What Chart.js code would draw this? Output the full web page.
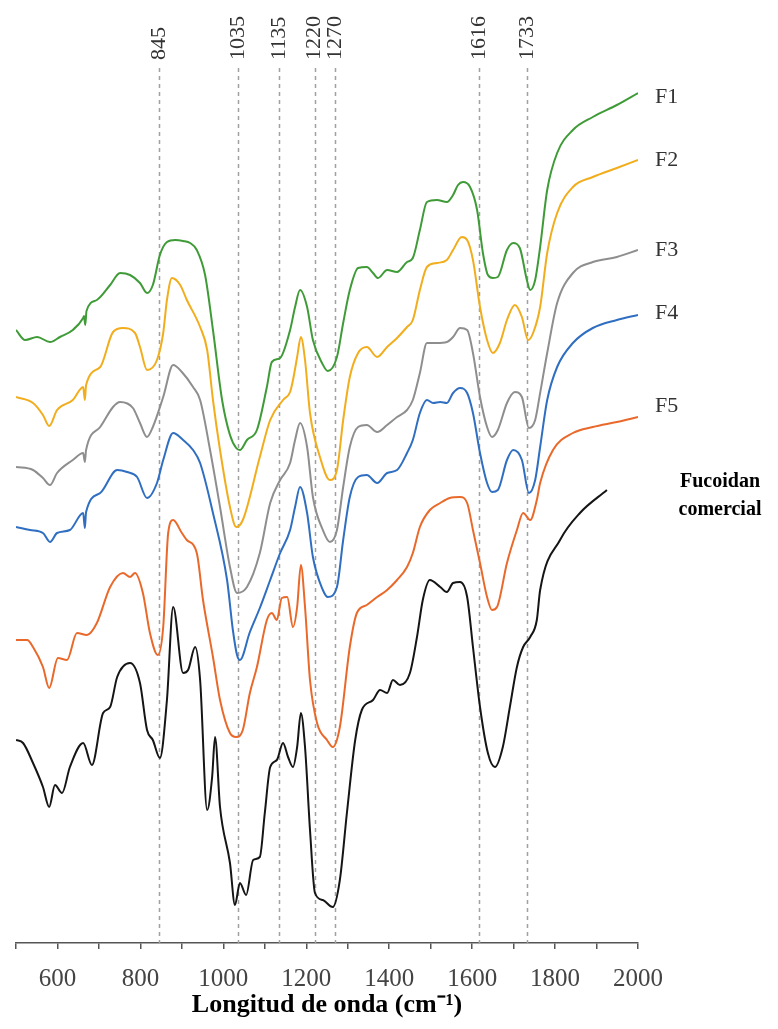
<!DOCTYPE html>
<html>
<head>
<meta charset="utf-8">
<script src="https://cdn.jsdelivr.net/npm/chart.js@4.4.1/dist/chart.umd.min.js"></script>
<style>
  html, body { margin: 0; padding: 0; background: #ffffff; }
  canvas { display: block; }
</style>
</head>
<body>
<canvas id="ftir" width="778" height="1029"></canvas>
<script>
// FTIR spectra of the fucoidan fractions (stacked, arbitrary transmittance units)
const wnF1 = [500,522,551,582,606,637,662,664,667,670,695,727,751,775,799,816,830,847,864,884,903,920,936,956,975,997,1016,1031,1040,1057,1081,1105,1117,1137,1161,1173,1185,1202,1216,1238,1252,1274,1289,1305,1325,1346,1361,1373,1395,1419,1443,1457,1474,1491,1515,1539,1554,1566,1578,1595,1612,1626,1638,1650,1662,1684,1699,1715,1732,1740,1752,1764,1781,1805,1843,1891,1949,2000];
const tF1 = [61.3,60.3,60.6,60.1,60.6,61.3,62.5,62.7,61.8,63.2,64.3,65.8,67.0,66.8,66.0,65.0,65.8,68.8,70.1,70.3,70.2,70.0,69.3,66.8,61.3,54.3,50.8,49.5,49.3,50.3,51.3,55.6,58.1,58.5,61.3,63.6,65.3,63.6,60.3,58.0,57.2,58.6,62.0,65.3,67.5,67.6,67.0,66.5,67.3,67.1,68.1,68.5,71.3,74.1,74.3,74.1,74.8,75.8,76.1,75.6,73.3,69.0,66.8,66.5,66.6,69.3,70.0,69.5,66.3,65.3,66.3,69.6,75.3,79.0,81.3,82.6,83.8,85.0];

const wnF2 = [500,541,565,580,599,637,662,666,669,703,734,758,787,799,816,840,855,864,876,896,912,944,961,975,992,1016,1031,1047,1088,1113,1144,1161,1168,1178,1187,1197,1209,1233,1257,1274,1289,1305,1325,1346,1371,1395,1419,1443,1457,1474,1491,1515,1539,1554,1575,1588,1602,1619,1636,1650,1667,1684,1703,1720,1735,1747,1764,1781,1805,1843,1891,1949,2000];
const tF2 = [54.6,54.0,52.8,51.7,53.3,54.3,55.6,54.3,55.8,57.6,61.1,61.5,61.0,59.6,57.3,58.3,61.0,64.3,66.5,65.8,64.3,61.6,59.3,54.3,49.3,43.6,41.6,42.3,48.6,52.3,54.3,55.1,56.3,58.6,60.6,58.3,53.0,48.6,46.3,47.3,52.3,56.6,59.0,59.6,58.6,59.6,60.5,61.6,62.3,65.3,67.6,68.0,68.3,69.3,70.6,70.3,68.3,63.6,60.3,59.0,60.0,62.3,63.8,62.6,60.3,61.0,63.6,69.0,73.0,75.6,76.6,77.5,78.3];

const wnF3 = [500,541,565,582,599,637,662,666,669,703,734,751,782,799,816,830,855,879,900,927,944,968,992,1016,1033,1057,1088,1113,1137,1161,1173,1185,1202,1216,1240,1257,1274,1289,1305,1325,1346,1371,1395,1419,1443,1457,1474,1491,1515,1539,1554,1571,1588,1602,1619,1636,1648,1662,1684,1703,1720,1737,1752,1764,1781,1805,1843,1891,1949,2000];
const tF3 = [47.6,47.3,46.5,45.8,47.0,48.3,49.0,48.1,49.3,51.6,53.6,54.1,53.5,52.0,50.6,51.6,54.6,57.8,57.1,55.6,54.3,49.3,43.6,37.6,35.0,35.6,39.0,44.0,46.3,48.0,50.3,52.0,49.6,44.6,41.3,40.1,41.3,45.6,49.6,51.6,51.8,51.1,51.8,52.6,53.3,54.3,57.0,60.0,60.0,60.1,60.6,61.5,61.3,59.0,54.6,51.6,50.6,51.3,54.0,55.1,54.6,51.5,52.3,55.0,59.0,64.0,67.0,68.1,68.6,69.3];

const wnF4 = [500,534,565,582,599,630,662,666,669,703,744,768,792,816,840,855,879,903,927,944,975,1009,1023,1033,1040,1064,1088,1113,1137,1161,1173,1185,1202,1216,1240,1252,1274,1289,1305,1325,1346,1371,1395,1419,1443,1457,1474,1491,1506,1523,1539,1554,1571,1588,1602,1619,1636,1648,1662,1684,1699,1720,1737,1752,1764,1781,1805,1843,1891,1949,2000];
const tF4 = [41.6,41.3,41.0,40.1,41.0,41.3,43.0,41.5,43.1,45.0,47.3,47.1,46.6,44.5,46.0,48.3,51.0,50.3,49.3,48.0,43.0,36.3,31.3,28.8,28.3,31.1,33.5,36.3,39.0,41.3,43.6,45.6,43.0,38.6,35.3,34.6,35.6,40.3,44.6,46.6,46.8,46.0,47.0,47.3,49.0,50.3,53.0,54.3,54.0,54.1,54.0,55.0,55.5,55.0,53.0,49.0,46.0,45.1,45.3,48.3,49.3,48.3,45.0,46.3,49.6,54.3,57.6,60.0,61.5,62.3,62.8];

const wnF5 = [500,527,541,565,580,601,623,647,671,695,727,758,775,787,806,823,842,855,867,879,900,912,936,951,975,992,1016,1031,1047,1064,1081,1105,1117,1129,1141,1154,1168,1178,1187,1197,1209,1226,1250,1264,1281,1305,1322,1346,1371,1395,1419,1443,1457,1474,1498,1523,1546,1571,1588,1602,1619,1636,1648,1660,1684,1708,1723,1740,1756,1764,1795,1843,1891,1949,2000];
const tF5 = [30.3,30.3,29.6,27.6,25.5,28.5,28.3,31.0,30.8,32.0,35.6,37.0,36.6,37.0,35.0,31.0,28.8,31.6,41.0,42.3,41.0,40.3,39.0,34.3,28.6,24.3,21.0,20.6,21.3,25.0,27.6,32.3,33.0,32.3,34.5,34.6,31.6,33.6,37.8,33.6,26.3,22.0,20.3,19.6,21.6,29.6,33.0,33.8,34.6,35.3,36.3,37.6,39.0,41.6,43.3,44.0,44.5,44.6,44.0,41.3,38.0,34.6,33.3,33.6,38.0,41.3,43.0,42.3,44.3,46.0,49.3,51.0,51.6,52.1,52.6];

const wnCom = [500,517,541,565,580,594,611,630,662,683,710,727,744,775,799,816,830,847,864,879,903,915,932,944,961,973,980,992,1016,1028,1040,1055,1072,1088,1100,1113,1129,1144,1156,1168,1178,1187,1197,1209,1221,1240,1264,1281,1298,1318,1334,1361,1378,1395,1409,1426,1450,1467,1481,1498,1523,1539,1554,1571,1588,1602,1619,1638,1655,1674,1691,1708,1723,1740,1756,1764,1812,1860,1925];
const tCom = [20.3,20.0,18.0,15.6,13.6,15.8,15.0,17.6,20.0,17.8,23.0,23.6,26.6,28.0,26.0,21.3,20.3,18.5,24.3,33.6,27.0,27.3,29.6,26.3,13.3,16.6,20.6,13.6,8.0,3.8,6.0,4.8,8.3,8.6,13.0,17.6,18.3,20.0,18.6,17.6,19.6,23.0,19.6,11.3,5.0,4.3,3.6,6.3,13.0,20.3,23.3,24.3,25.3,25.0,26.3,25.8,27.0,30.6,34.3,36.3,35.6,35.1,36.0,36.1,34.6,29.6,23.6,19.0,17.6,19.6,23.6,27.6,29.6,30.6,32.3,35.3,40.3,43.0,45.3];

// band assignments marked with dashed guides (cm-1)
const bandPositions = [845, 1035, 1135, 1220, 1270, 1616, 1733];

// axis ticks
const xTickStep = 100;
const xTickLabelStep = 200;

const seriesNames = ['F1', 'F2', 'F3', 'F4', 'F5', 'Fucoidan comercial'];

function toPoints(wn, t) {
  const n = Math.min(wn.length, t.length);
  const pts = [];
  for (let i = 0; i < n; i++) pts.push({ x: wn[i], y: t[i] });
  return pts;
}

const palette = ['#3f9b37', '#f2ad1d', '#8e8e8e', '#2f6ec0', '#e9692b', '#151515'];
const spectra = [
  toPoints(wnF1, tF1), toPoints(wnF2, tF2), toPoints(wnF3, tF3),
  toPoints(wnF4, tF4), toPoints(wnF5, tF5), toPoints(wnCom, tCom)
];

const datasets = spectra.map((pts, i) => ({
  label: seriesNames[i],
  data: pts,
  borderColor: palette[i],
  borderWidth: 2,
  pointRadius: 0,
  fill: false,
  cubicInterpolationMode: 'monotone'
}));

// dashed guides + their rotated labels, and the series names on the right
const annotationPlugin = {
  id: 'bandGuides',
  beforeDatasetsDraw(chart) {
    const { ctx, chartArea, scales } = chart;
    ctx.save();
    ctx.strokeStyle = '#a0a0a0';
    ctx.lineWidth = 1.5;
    ctx.setLineDash([4, 4]);
    bandPositions.forEach(v => {
      const x = Math.round(scales.x.getPixelForValue(v)) + 0.5;
      ctx.beginPath();
      ctx.moveTo(x, 68);
      ctx.lineTo(x, chartArea.bottom);
      ctx.stroke();
    });
    ctx.restore();
  },
  afterDraw(chart) {
    const { ctx, scales } = chart;
    ctx.save();
    ctx.fillStyle = '#333333';
    ctx.font = '22px "Liberation Serif", serif';
    ctx.textAlign = 'left';
    ctx.textBaseline = 'middle';
    bandPositions.forEach(v => {
      const x = scales.x.getPixelForValue(v);
      ctx.save();
      ctx.translate(x, 60);
      ctx.rotate(-Math.PI / 2);
      ctx.fillText(String(v), 0, 0);
      ctx.restore();
    });

    ctx.fillStyle = '#333333';
    ctx.font = '22px "Liberation Serif", serif';
    const labelY = [97, 160, 250, 313, 406];
    labelY.forEach((y, i) => ctx.fillText(seriesNames[i], 655, y));

    ctx.fillStyle = '#000000';
    ctx.font = 'bold 20px "Liberation Serif", serif';
    ctx.textAlign = 'center';
    const parts = seriesNames[5].split(' ');
    ctx.fillText(parts[0], 720, 482);
    ctx.fillText(parts[1], 720, 510);
    ctx.restore();
  }
};

new Chart(document.getElementById('ftir'), {
  type: 'line',
  data: { datasets },
  options: {
    responsive: false,
    devicePixelRatio: 1,
    animation: false,
    layout: { padding: { left: 16, right: 140, top: 43, bottom: 0 } },
    plugins: { legend: { display: false }, tooltip: { enabled: false } },
    scales: {
      x: {
        type: 'linear',
        min: 500,
        max: 2000,
        afterFit(scale) { scale.height = 86; },
        border: { display: true, color: '#555555', width: 1.5 },
        grid: { display: true, drawOnChartArea: false, drawTicks: true, tickLength: 6, color: '#555555', lineWidth: 1.5 },
        ticks: {
          stepSize: xTickStep,
          autoSkip: false,
          maxRotation: 0,
          padding: 15,
          color: '#444444',
          font: { family: '"Liberation Serif", serif', size: 25 },
          callback: v => (v % xTickLabelStep === 0 && v > 500) ? String(v) : ''
        },
        title: {
          display: true,
          text: 'Longitud de onda (cm⁻¹)',
          color: '#000000',
          font: { family: '"Liberation Serif", serif', size: 26, weight: 'bold' },
          padding: { top: 0, bottom: 8 }
        }
      },
      y: { display: false, min: 0, max: 90 }
    }
  },
  plugins: [annotationPlugin]
});
</script>
</body>
</html>
